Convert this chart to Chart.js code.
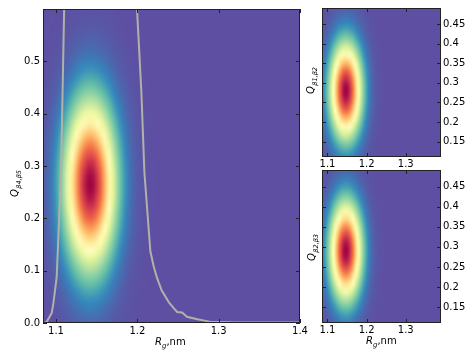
<!DOCTYPE html>
<html><head><meta charset="utf-8">
<script src="https://cdn.jsdelivr.net/npm/chart.js@4.4.1/dist/chart.umd.min.js"></script>
<style>
html,body{margin:0;padding:0;background:#fff;}
#wrap{position:relative;width:474px;height:356px;overflow:hidden;}
#wrap canvas{position:absolute;left:0;top:0;}
</style></head><body>
<div id="wrap">
<canvas id="cMain" width="474" height="356" style="width:474px;height:356px"></canvas>
<canvas id="cTop" width="474" height="356" style="width:474px;height:356px"></canvas>
<canvas id="cBot" width="474" height="356" style="width:474px;height:356px"></canvas>
</div>
<script>
// ---------------- data ----------------
const mainXTicks = [1.1, 1.2, 1.3, 1.4];
const mainXTickLabels = ['1.1', '1.2', '1.3', '1.4'];
const mainYTicks = [0, 0.1, 0.2, 0.3, 0.4, 0.5];
const mainYTickLabels = ['0.0', '0.1', '0.2', '0.3', '0.4', '0.5'];
const smallXTicks = [1.1, 1.2, 1.3];
const smallXTickLabels = ['1.1', '1.2', '1.3'];
const smallYTicks = [0.15, 0.2, 0.25, 0.3, 0.35, 0.4, 0.45];
const smallYTickLabels = ['0.15', '0.2', '0.25', '0.3', '0.35', '0.4', '0.45'];

// grey curve: distribution of Rg drawn over the main panel
const curveRg = [1.084, 1.0885, 1.0947, 1.0967, 1.1008, 1.1062, 1.110, 1.12, 1.14, 1.17, 1.19, 1.1996, 1.205, 1.2087, 1.216, 1.220, 1.224, 1.230, 1.2386, 1.245, 1.249, 1.255, 1.261, 1.2737, 1.281, 1.290, 1.30, 1.32, 1.35, 1.38, 1.40];
const curveQ = [0, 0.002, 0.019, 0.037, 0.087, 0.287, 0.6, 1.2, 1.6, 1.4, 0.9, 0.6, 0.44, 0.287, 0.137, 0.109, 0.087, 0.062, 0.040, 0.028, 0.021, 0.020, 0.012, 0.007, 0.005, 0.002, 0.002, 0.001, 0.001, 0.001, 0.001];

// main panel density: Rg grid and its profile, Q grid and its profile
const mainRgGrid = [1.085, 1.09, 1.095, 1.1, 1.105, 1.11, 1.115, 1.12, 1.125, 1.13, 1.135, 1.14, 1.145, 1.15, 1.155, 1.16, 1.165, 1.17, 1.175, 1.18, 1.185, 1.19, 1.195, 1.2, 1.205, 1.21, 1.215, 1.22, 1.225];
const mainRgDensity = [0.025, 0.047, 0.082, 0.135, 0.212, 0.313, 0.437, 0.578, 0.721, 0.849, 0.946, 0.995, 0.99, 0.93, 0.826, 0.693, 0.549, 0.411, 0.291, 0.195, 0.123, 0.073, 0.041, 0.022, 0.011, 0.005, 0.002, 0.001, 0];
const mainQGrid = [0, 0.02, 0.04, 0.06, 0.08, 0.1, 0.12, 0.14, 0.16, 0.18, 0.2, 0.22, 0.24, 0.26, 0.28, 0.3, 0.32, 0.34, 0.36, 0.38, 0.4, 0.42, 0.44, 0.46, 0.48, 0.5, 0.52, 0.54, 0.56, 0.58, 0.6];
const mainQDensity = [0.044, 0.069, 0.105, 0.154, 0.218, 0.298, 0.392, 0.499, 0.612, 0.725, 0.829, 0.914, 0.973, 0.999, 0.990, 0.947, 0.874, 0.779, 0.669, 0.555, 0.444, 0.343, 0.256, 0.184, 0.128, 0.086, 0.055, 0.035, 0.021, 0.012, 0.007];

// small panels
const smallRgGrid = [1.085, 1.09, 1.095, 1.1, 1.105, 1.11, 1.115, 1.12, 1.125, 1.13, 1.135, 1.14, 1.145, 1.15, 1.155, 1.16, 1.165, 1.17, 1.175, 1.18, 1.185, 1.19, 1.195, 1.2, 1.205, 1.21, 1.215, 1.22, 1.225, 1.23, 1.235, 1.24, 1.245, 1.25];
const smallRgDensity = [0.072, 0.108, 0.156, 0.220, 0.298, 0.391, 0.495, 0.607, 0.717, 0.820, 0.906, 0.967, 0.997, 0.994, 0.957, 0.891, 0.801, 0.696, 0.584, 0.474, 0.372, 0.281, 0.206, 0.146, 0.100, 0.066, 0.042, 0.026, 0.015, 0.009, 0.005, 0.003, 0.001, 0];
const smallQGrid = [0.11, 0.13, 0.15, 0.17, 0.19, 0.21, 0.23, 0.25, 0.27, 0.29, 0.31, 0.33, 0.35, 0.37, 0.39, 0.41, 0.43, 0.45, 0.47, 0.49];
const topQDensity = [0.105, 0.172, 0.267, 0.389, 0.531, 0.682, 0.823, 0.932, 0.992, 0.992, 0.932, 0.823, 0.682, 0.531, 0.389, 0.267, 0.172, 0.105, 0.060, 0.032];
const botQDensity = [0.080, 0.135, 0.216, 0.325, 0.458, 0.607, 0.755, 0.882, 0.969, 1.0, 0.969, 0.882, 0.755, 0.607, 0.458, 0.325, 0.216, 0.135, 0.080, 0.044];

// ---------------- styling / helpers ----------------
const SPECTRAL_R = ['#5e4fa2', '#3288bd', '#66c2a5', '#abdda4', '#e6f598', '#ffffbf', '#fee08b', '#fdae61', '#f46d43', '#d53e4f', '#9e0142'];
const FONT = 'DejaVu Sans';
function hexRgb(h) { return [parseInt(h.slice(1, 3), 16), parseInt(h.slice(3, 5), 16), parseInt(h.slice(5, 7), 16)]; }
const CM = SPECTRAL_R.map(hexRgb);
function cmap(v) {
  v = Math.max(0, Math.min(1, v));
  const p = v * 10; const i = Math.min(9, Math.floor(p)); const f = p - i;
  const a = CM[i], b = CM[i + 1];
  return [a[0] + (b[0] - a[0]) * f, a[1] + (b[1] - a[1]) * f, a[2] + (b[2] - a[2]) * f];
}

function drawQ(ctx, x, y, sub) {
  ctx.save();
  ctx.translate(x, y); ctx.rotate(-Math.PI / 2);
  ctx.fillStyle = '#000'; ctx.textBaseline = 'alphabetic'; ctx.textAlign = 'left';
  ctx.font = 'italic 10px "' + FONT + '"';
  ctx.fillText('Q', 0, 0);
  const w = ctx.measureText('Q').width;
  ctx.font = 'italic 6.5px "' + FONT + '"';
  ctx.fillText(sub, w + 0.5, 2.5);
  ctx.restore();
}
function drawRg(ctx, x, y) {
  ctx.save();
  ctx.fillStyle = '#000'; ctx.textBaseline = 'alphabetic'; ctx.textAlign = 'left';
  ctx.font = 'italic 10px "' + FONT + '"';
  ctx.fillText('R', x, y);
  let cx = x + ctx.measureText('R').width;
  ctx.font = 'italic 7px "' + FONT + '"';
  ctx.fillText('g', cx, y + 2.5);
  cx += ctx.measureText('g').width;
  ctx.font = '10px "' + FONT + '"';
  ctx.fillText(',nm', cx, y);
  ctx.restore();
}

function makePanelPlugin(cfg) {
  return {
    id: 'panel',
    beforeDatasetsDraw(chart) {
      const ctx = chart.ctx, a = chart.chartArea, xs = chart.scales.x, ys = chart.scales.y;
      const gx = cfg.gx, gy = cfg.gy, px = cfg.px, py = cfg.py;
      const nx = gx.length, ny = gy.length;
      const off = document.createElement('canvas'); off.width = nx; off.height = ny;
      const octx = off.getContext('2d'); const img = octx.createImageData(nx, ny);
      for (let j = 0; j < ny; j++) for (let i = 0; i < nx; i++) {
        const c = cmap(px[i] * py[j]);
        const k = ((ny - 1 - j) * nx + i) * 4;
        img.data[k] = c[0]; img.data[k + 1] = c[1]; img.data[k + 2] = c[2]; img.data[k + 3] = 255;
      }
      octx.putImageData(img, 0, 0);
      ctx.save();
      ctx.beginPath(); ctx.rect(a.left, a.top, a.right - a.left, a.bottom - a.top); ctx.clip();
      const c0 = cmap(0);
      ctx.fillStyle = 'rgb(' + c0.map(Math.round).join(',') + ')';
      ctx.fillRect(a.left, a.top, a.right - a.left, a.bottom - a.top);
      const sx = gx[1] - gx[0], sy = gy[1] - gy[0];
      const l = xs.getPixelForValue(gx[0] - sx / 2), r = xs.getPixelForValue(gx[nx - 1] + sx / 2);
      const t = ys.getPixelForValue(gy[ny - 1] + sy / 2), b = ys.getPixelForValue(gy[0] - sy / 2);
      ctx.imageSmoothingEnabled = true; ctx.imageSmoothingQuality = 'high';
      ctx.drawImage(off, l, t, r - l, b - t);
      ctx.restore();
    },
    afterDraw(chart) {
      const ctx = chart.ctx, a = chart.chartArea, xs = chart.scales.x, ys = chart.scales.y;
      ctx.save();
      ctx.strokeStyle = '#222'; ctx.lineWidth = 1;
      const L = Math.round(a.left), R = Math.round(a.right), T = Math.round(a.top), B = Math.round(a.bottom);
      ctx.strokeRect(L + 0.5, T + 0.5, R - L - 1, B - T - 1);
      const tl = 4;
      ctx.beginPath();
      cfg.xt.forEach(v => {
        const p = Math.round(xs.getPixelForValue(v)) + 0.5;
        ctx.moveTo(p, B); ctx.lineTo(p, B - tl);
        ctx.moveTo(p, T); ctx.lineTo(p, T + tl);
      });
      cfg.yt.forEach(v => {
        const p = Math.round(ys.getPixelForValue(v)) + 0.5;
        ctx.moveTo(L, p); ctx.lineTo(L + tl, p);
        ctx.moveTo(R, p); ctx.lineTo(R - tl, p);
      });
      ctx.stroke();
      ctx.restore();
      cfg.titles(ctx);
    }
  };
}

function scaleCfg(min, max, ticks, labels, pos, fitKey, fitVal, pad) {
  return {
    type: 'linear', position: pos, min: min, max: max,
    grid: { display: false, drawTicks: false }, border: { display: false },
    ticks: {
      font: { family: FONT, size: 10 }, color: '#000', padding: pad,
      maxRotation: 0, minRotation: 0, autoSkip: false,
      callback: (v, i) => labels[i]
    },
    afterBuildTicks: s => { s.ticks = ticks.map(v => ({ value: v })); },
    afterFit: s => { s[fitKey] = fitVal; }
  };
}

const baseOpts = {
  responsive: false, animation: false, devicePixelRatio: 1,
  plugins: { legend: { display: false }, tooltip: { enabled: false } },
  events: []
};

// main panel
new Chart(document.getElementById('cMain'), {
  type: 'scatter',
  data: {
    datasets: [{
      data: curveRg.map((x, i) => ({ x: x, y: curveQ[i] })),
      showLine: true, pointRadius: 0, borderColor: '#b2b1a9', borderWidth: 2, tension: 0, fill: false
    }]
  },
  options: Object.assign({}, baseOpts, {
    layout: { padding: { left: 0, top: 4, right: 174, bottom: 13 } },
    scales: {
      x: scaleCfg(1.084, 1.4, mainXTicks, mainXTickLabels, 'bottom', 'height', 20, 2),
      y: scaleCfg(0, 0.6, mainYTicks, mainYTickLabels, 'left', 'width', 43, 3)
    }
  }),
  plugins: [makePanelPlugin({
    gx: mainRgGrid, gy: mainQGrid, px: mainRgDensity, py: mainQDensity,
    xt: mainXTicks, yt: mainYTicks,
    titles: ctx => { drawQ(ctx, 18, 197, 'β4,β5'); drawRg(ctx, 155, 345); }
  })]
});

// top-right panel
new Chart(document.getElementById('cTop'), {
  type: 'scatter',
  data: { datasets: [{ data: [], pointRadius: 0 }] },
  options: Object.assign({}, baseOpts, {
    layout: { padding: { left: 322, top: 4, right: 3, bottom: 187 } },
    scales: {
      x: scaleCfg(1.086, 1.39, smallXTicks, smallXTickLabels, 'bottom', 'height', 12, 1),
      y: scaleCfg(0.111, 0.491, smallYTicks, smallYTickLabels, 'right', 'width', 30, 2)
    }
  }),
  plugins: [makePanelPlugin({
    gx: smallRgGrid, gy: smallQGrid, px: smallRgDensity, py: topQDensity,
    xt: smallXTicks, yt: smallYTicks,
    titles: ctx => { drawQ(ctx, 314, 94, 'β1,β2'); }
  })]
});

// bottom-right panel
new Chart(document.getElementById('cBot'), {
  type: 'scatter',
  data: { datasets: [{ data: [], pointRadius: 0 }] },
  options: Object.assign({}, baseOpts, {
    layout: { padding: { left: 322, top: 170, right: 3, bottom: 21 } },
    scales: {
      x: scaleCfg(1.086, 1.39, smallXTicks, smallXTickLabels, 'bottom', 'height', 12, 1),
      y: scaleCfg(0.111, 0.491, smallYTicks, smallYTickLabels, 'right', 'width', 30, 2)
    }
  }),
  plugins: [makePanelPlugin({
    gx: smallRgGrid, gy: smallQGrid, px: smallRgDensity, py: botQDensity,
    xt: smallXTicks, yt: smallYTicks,
    titles: ctx => { drawQ(ctx, 315, 261, 'β2,β3'); drawRg(ctx, 366, 344); }
  })]
});
</script>
</body></html>
